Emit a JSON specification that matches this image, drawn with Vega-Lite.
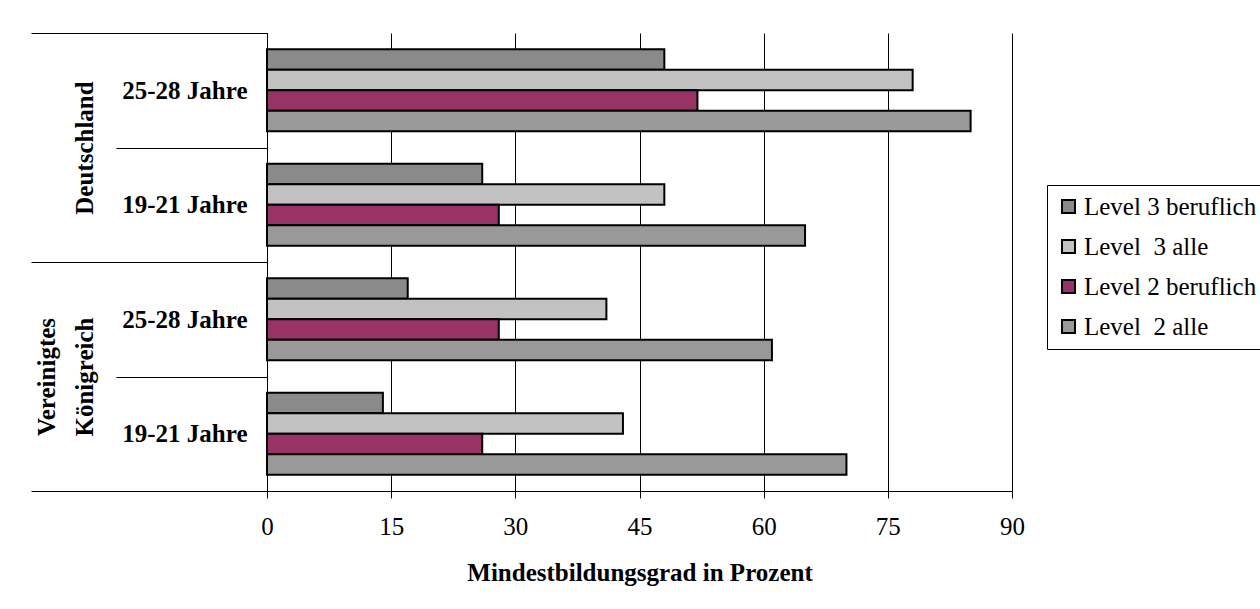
{
  "$schema": "https://vega.github.io/schema/vega-lite/v6.json",
  "autosize": {"type": "none"},
  "padding": {"left": 267, "top": 33, "right": 248, "bottom": 118},
  "width": 745,
  "height": 458,
  "background": "white",
  "config": {
    "view": {"stroke": null},
    "font": "Liberation Serif",
    "axis": {"labelFont": "Liberation Serif", "titleFont": "Liberation Serif", "labelColor": "black", "titleColor": "black"},
    "legend": {"labelFont": "Liberation Serif", "titleFont": "Liberation Serif", "labelColor": "black"}
  },
  "data": {
    "values": [
      {"country": "Deutschland", "age": "25-28 Jahre", "group": "Deutschland|25-28 Jahre", "series": "Level 3 beruflich", "value": 48},
      {"country": "Deutschland", "age": "25-28 Jahre", "group": "Deutschland|25-28 Jahre", "series": "Level \u00a03 alle", "value": 78},
      {"country": "Deutschland", "age": "25-28 Jahre", "group": "Deutschland|25-28 Jahre", "series": "Level 2 beruflich", "value": 52},
      {"country": "Deutschland", "age": "25-28 Jahre", "group": "Deutschland|25-28 Jahre", "series": "Level \u00a02 alle", "value": 85},
      {"country": "Deutschland", "age": "19-21 Jahre", "group": "Deutschland|19-21 Jahre", "series": "Level 3 beruflich", "value": 26},
      {"country": "Deutschland", "age": "19-21 Jahre", "group": "Deutschland|19-21 Jahre", "series": "Level \u00a03 alle", "value": 48},
      {"country": "Deutschland", "age": "19-21 Jahre", "group": "Deutschland|19-21 Jahre", "series": "Level 2 beruflich", "value": 28},
      {"country": "Deutschland", "age": "19-21 Jahre", "group": "Deutschland|19-21 Jahre", "series": "Level \u00a02 alle", "value": 65},
      {"country": "Vereinigtes Königreich", "age": "25-28 Jahre", "group": "Vereinigtes Königreich|25-28 Jahre", "series": "Level 3 beruflich", "value": 17},
      {"country": "Vereinigtes Königreich", "age": "25-28 Jahre", "group": "Vereinigtes Königreich|25-28 Jahre", "series": "Level \u00a03 alle", "value": 41},
      {"country": "Vereinigtes Königreich", "age": "25-28 Jahre", "group": "Vereinigtes Königreich|25-28 Jahre", "series": "Level 2 beruflich", "value": 28},
      {"country": "Vereinigtes Königreich", "age": "25-28 Jahre", "group": "Vereinigtes Königreich|25-28 Jahre", "series": "Level \u00a02 alle", "value": 61},
      {"country": "Vereinigtes Königreich", "age": "19-21 Jahre", "group": "Vereinigtes Königreich|19-21 Jahre", "series": "Level 3 beruflich", "value": 14},
      {"country": "Vereinigtes Königreich", "age": "19-21 Jahre", "group": "Vereinigtes Königreich|19-21 Jahre", "series": "Level \u00a03 alle", "value": 43},
      {"country": "Vereinigtes Königreich", "age": "19-21 Jahre", "group": "Vereinigtes Königreich|19-21 Jahre", "series": "Level 2 beruflich", "value": 26},
      {"country": "Vereinigtes Königreich", "age": "19-21 Jahre", "group": "Vereinigtes Königreich|19-21 Jahre", "series": "Level \u00a02 alle", "value": 70}
    ]
  },
  "layer": [
    {
      "mark": {"type": "bar", "stroke": "black", "strokeWidth": 2, "opacity": 1},
      "encoding": {
        "y": {
          "field": "group", "type": "nominal", "sort": null,
          "scale": {"paddingInner": 0, "paddingOuter": 0},
          "axis": {
            "title": null, "orient": "left", "domain": true, "domainColor": "black", "domainWidth": 1,
            "ticks": true, "tickBand": "extent", "tickSize": 151, "tickColor": "black", "tickWidth": 1,
            "labelExpr": "split(datum.label, '|')[1]",
            "labelPadding": -131, "labelFontSize": 25, "labelFontWeight": "bold", "labelLimit": 0,
            "labelOverlap": false
          }
        },
        "yOffset": {
          "field": "series", "type": "nominal", "sort": null,
          "scale": {"paddingInner": 0, "paddingOuter": 0.79}
        },
        "x": {
          "field": "value", "type": "quantitative",
          "scale": {"domain": [0, 90], "nice": false},
          "axis": {
            "values": [0, 15, 30, 45, 60, 75, 90],
            "title": "Mindestbildungsgrad in Prozent",
            "titleFontSize": 25, "titleFontWeight": "bold", "titlePadding": 21,
            "labelFontSize": 25, "labelPadding": 16, "labelFontWeight": "normal",
            "tickSize": 7, "tickColor": "black", "domainColor": "black",
            "grid": true, "gridColor": "black", "gridWidth": 1, "gridOpacity": 1,
            "labelFlush": false
          }
        },
        "color": {
          "field": "series", "type": "nominal", "sort": null,
          "scale": {
            "domain": ["Level 3 beruflich", "Level \u00a03 alle", "Level 2 beruflich", "Level \u00a02 alle"],
            "range": ["#8a8a8a", "#c2c2c2", "#993366", "#999999"]
          },
          "legend": {
            "title": null, "orient": "none", "legendX": 780, "legendY": 152,
            "strokeColor": "black", "fillColor": "white", "padding": 9,
            "symbolType": "square", "symbolSize": 170, "symbolStrokeColor": "black", "symbolStrokeWidth": 2,
            "symbolOpacity": 1,
            "labelFont": "Liberation Serif", "labelFontSize": 25, "labelColor": "black", "labelLimit": 0,
            "labelOffset": 3, "rowPadding": 14
          }
        }
      }
    },
    {
      "mark": {"type": "text", "opacity": 0},
      "encoding": {
        "y": {
          "field": "country", "type": "nominal", "sort": null,
          "scale": {"paddingInner": 0, "paddingOuter": 0},
          "axis": {
            "title": null, "orient": "left", "domain": false,
            "ticks": true, "tickBand": "extent", "tickSize": 236, "tickColor": "black", "tickWidth": 1,
            "labelExpr": "datum.label == 'Vereinigtes Königreich' ? ['Vereinigtes', 'Königreich'] : ['', datum.label]",
            "labelAngle": 270, "labelAlign": "center", "labelBaseline": "bottom",
            "labelPadding": -28, "labelFontSize": 25, "labelFontWeight": "bold", "labelLimit": 0,
            "labelLineHeight": 38, "labelOverlap": false
          }
        },
        "text": {"value": ""}
      }
    }
  ],
  "resolve": {"scale": {"y": "independent"}, "axis": {"y": "independent"}}
}
